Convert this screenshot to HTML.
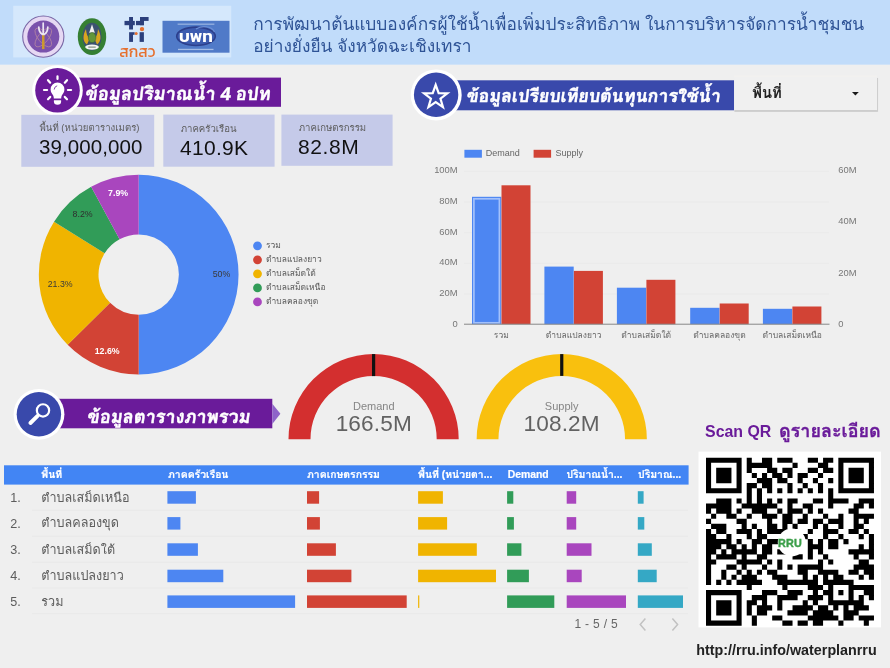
<!DOCTYPE html>
<html lang="th"><head><meta charset="utf-8"><title>Water plan dashboard</title>
<style>
html,body{margin:0;padding:0}
body{width:890px;height:668px;overflow:hidden;background:#efefef;font-family:"Liberation Sans","Loma","Noto Sans Thai Looped","Noto Sans Thai",sans-serif;}
#pg{position:relative;width:890px;height:668px;overflow:hidden;background:#efefef}
.a{position:absolute;white-space:nowrap;line-height:1}
#tx{position:absolute;left:0;top:0;width:890px;height:668px;will-change:transform}
svg{position:absolute;left:0;top:0}
.th{font-family:"Liberation Sans","Loma","Noto Sans Thai Looped","Noto Sans Thai",sans-serif}
.ttl{color:#fff;font-weight:bold;font-style:normal;-webkit-text-stroke:0.45px #fff;transform:skewX(-7deg);transform-origin:0 75%}
.lbl{color:#5c5c5c;font-size:9.6px}
.val{color:#111;font-size:20.5px}
.row{color:#5c5c5c;font-size:12.6px}
.hd{color:#fff;font-size:10.4px;font-weight:bold;-webkit-text-stroke:0.2px #fff}
.ax{fill:#666;font-size:9px;font-family:"Liberation Sans","Loma",sans-serif}
</style></head><body><div id="pg">

<svg width="890" height="668" viewBox="0 0 890 668">
<rect x="0" y="0" width="890" height="64.65" fill="#c1dcfa"/>
<rect x="13.2" y="5.8" width="218" height="51.6" fill="#d5e8fc"/>
<g><circle cx="43.3" cy="36.6" r="20.6" fill="#e6d8f3" stroke="#7a68a6" stroke-width="1.1"/><circle cx="43.3" cy="36.6" r="16" fill="#7a52ac"/><g fill="none" stroke="#b98aa0" stroke-width="0.8" opacity="0.9"><ellipse cx="43.3" cy="37.5" rx="11.5" ry="5" transform="rotate(50 43.3 37.5)"/><ellipse cx="43.3" cy="37.5" rx="11.5" ry="5" transform="rotate(-50 43.3 37.5)"/></g><rect x="42" y="34.5" width="2.5" height="14.6" fill="#cc9a2e"/><path d="M43.2 23v11.5M38.8 27c0 4 1.2 6 3.6 7.4M47.8 27c0 4-1.2 6-3.6 7.4" fill="none" stroke="#ece6f4" stroke-width="1.7" stroke-linecap="round"/></g>
<g><ellipse cx="92" cy="36.65" rx="14.2" ry="18.45" fill="#357f33"/><ellipse cx="92" cy="36.65" rx="9.6" ry="13.9" fill="#3b5270"/><path d="M87 44.6c-4.3-3-4.6-9-1-15.6c0.3 4.8 1.4 7.6 3.6 9.8z M97 44.6c4.3-3 4.6-9 1-15.6c-0.3 4.8-1.4 7.6-3.6 9.8z" fill="#d9a520"/><path d="M92 24.2l2.8 8.6h-5.6z" fill="#f1f1ee"/><ellipse cx="92.1" cy="37.6" rx="3.8" ry="5" fill="#62963a" stroke="#3d6a2c" stroke-width="0.6"/><ellipse cx="92" cy="47.1" rx="6.8" ry="2.6" fill="#f4f6f2"/><rect x="88.3" y="46.6" width="7.4" height="1" fill="#6a7a6a"/></g>
<g fill="#2b3f7c"><rect x="129.1" y="17" width="3.9" height="12.5"/><rect x="124.5" y="20.9" width="10.3" height="4.3"/><rect x="136" y="20.9" width="7.9" height="4.3"/><rect x="140" y="17" width="8.6" height="3.9"/><rect x="140" y="17" width="3.9" height="8.2"/><rect x="129.1" y="32.2" width="3.9" height="9.7"/><rect x="133" y="32.2" width="1.6" height="2.6"/><rect x="139.6" y="32.2" width="4.3" height="9.7"/><circle cx="142" cy="29.1" r="2.2" fill="#e5702f"/><circle cx="136.2" cy="33.4" r="1.5" fill="#e5702f"/></g>
<g><rect x="162.5" y="20.8" width="67" height="31.9" fill="#507ac8"/><ellipse cx="196" cy="36.3" rx="19.3" ry="9.2" fill="#3d5cb0" stroke="#2c3f8c" stroke-width="1.6"/><path d="M196 29c6-4 16-3 18.5 3" fill="none" stroke="#6c8fd6" stroke-width="1.2"/><rect x="177.6" y="23.6" width="36.8" height="1.1" fill="#dbe6f8" opacity="0.6"/><rect x="178" y="48.8" width="35.5" height="1.3" fill="#dbe6f8" opacity="0.6"/></g>
<rect x="57" y="77.6" width="224" height="29.2" fill="#6a1b9a"/>
<circle cx="57.5" cy="90.6" r="25.3" fill="#fff"/><circle cx="57.5" cy="90.3" r="22.3" fill="#6a1b9a"/>
<g stroke="#fff" stroke-width="2.2" stroke-linecap="round" fill="none"><path d="M57.5 76.3V79M44 90H47.1M67.9 90H71.1M48 80.2L50.2 82.7M67 80.2L64.8 82.7M48 99.3L50.2 96.9M67 99.3L64.8 96.9"/></g>
<path d="M57.5 82.5a6.9 6.9 0 0 1 6.9 6.9c0 2.9-1.7 4.3-2.6 6.1c-0.5 1-0.6 2-0.6 3.1h-7.4c0-1.1-0.1-2.1-0.6-3.1c-0.9-1.8-2.6-3.2-2.6-6.1a6.9 6.9 0 0 1 6.9-6.9z" fill="#fff"/>
<path d="M53.9 100.3h7.2v1.2a3.6 3.3 0 0 1-7.2 0z" fill="#fff"/>
<path d="M54.2 89.2a3.6 3.6 0 0 1 2.6-3.3" stroke="#6a1b9a" stroke-width="0.8" fill="none" stroke-linecap="round"/>
<rect x="435" y="80.3" width="299.1" height="30" fill="#3949ab"/>
<circle cx="436.2" cy="94.9" r="25.5" fill="#fff"/><circle cx="436.1" cy="94.8" r="22.2" fill="#3949ab"/>
<path d="M435.70 84.80L438.64 93.05L447.40 93.30L440.46 98.65L442.93 107.05L435.70 102.10L428.47 107.05L430.94 98.65L424.00 93.30L432.76 93.05Z" fill="none" stroke="#fff" stroke-width="2.2" stroke-linejoin="miter"/>
<rect x="40" y="398.8" width="232.3" height="29.5" fill="#6a1b9a"/>
<path d="M272.3 403.7L280.4 413.8L272.3 424Z" fill="#8e63c9"/>
<circle cx="39" cy="414.3" r="25.4" fill="#fff"/><circle cx="38.9" cy="414.3" r="22.2" fill="#3949ab"/>
<circle cx="43" cy="410.4" r="6.15" fill="none" stroke="#fff" stroke-width="2.2"/><path d="M37.6 415.9L30.4 423" stroke="#fff" stroke-width="3.9" stroke-linecap="round"/>
<rect x="21.3" y="114.8" width="132.9" height="52.0" fill="#c5cae9"/>
<rect x="163.3" y="114.6" width="111.3" height="52.1" fill="#c5cae9"/>
<rect x="281.4" y="114.6" width="111.2" height="51.2" fill="#c5cae9"/>
<path d="M138.70 174.75A99.85 99.85 0 0 1 138.70 374.45L138.70 314.80A40.2 40.2 0 0 0 138.70 234.40Z" fill="#4d86f2"/>
<path d="M138.70 374.45A99.85 99.85 0 0 1 67.65 344.76L110.10 302.85A40.2 40.2 0 0 0 138.70 314.80Z" fill="#d24335"/>
<path d="M67.65 344.76A99.85 99.85 0 0 1 54.06 221.63L104.62 253.27A40.2 40.2 0 0 0 110.10 302.85Z" fill="#f0b400"/>
<path d="M54.06 221.63A99.85 99.85 0 0 1 91.15 186.80L119.56 239.25A40.2 40.2 0 0 0 104.62 253.27Z" fill="#319c58"/>
<path d="M91.15 186.80A99.85 99.85 0 0 1 138.70 174.75L138.70 234.40A40.2 40.2 0 0 0 119.56 239.25Z" fill="#a946be"/>
<circle cx="257.5" cy="245.8" r="4.4" fill="#4d86f2"/>
<circle cx="257.5" cy="259.8" r="4.4" fill="#d24335"/>
<circle cx="257.5" cy="273.8" r="4.4" fill="#f0b400"/>
<circle cx="257.5" cy="287.9" r="4.4" fill="#319c58"/>
<circle cx="257.5" cy="301.9" r="4.4" fill="#a946be"/>
<rect x="464" y="293.5" width="365" height="1" fill="#eaeaea"/>
<rect x="464" y="262.8" width="365" height="1" fill="#eaeaea"/>
<rect x="464" y="232.2" width="365" height="1" fill="#eaeaea"/>
<rect x="464" y="201.5" width="365" height="1" fill="#eaeaea"/>
<rect x="464" y="170.8" width="365" height="1" fill="#eaeaea"/>
<rect x="472" y="196.8" width="29.3" height="127.4" fill="#4d86f2"/>
<rect x="501.5" y="185.3" width="29.0" height="138.9" fill="#d24335"/>
<rect x="544.4" y="266.6" width="29.3" height="57.6" fill="#4d86f2"/>
<rect x="573.9" y="270.9" width="29.0" height="53.3" fill="#d24335"/>
<rect x="616.9" y="287.7" width="29.3" height="36.5" fill="#4d86f2"/>
<rect x="646.4" y="279.8" width="29.0" height="44.4" fill="#d24335"/>
<rect x="690.2" y="307.8" width="29.3" height="16.4" fill="#4d86f2"/>
<rect x="719.7" y="303.5" width="29.0" height="20.7" fill="#d24335"/>
<rect x="762.9" y="308.8" width="29.3" height="15.4" fill="#4d86f2"/>
<rect x="792.4" y="306.5" width="29.0" height="17.7" fill="#d24335"/>
<rect x="473.9" y="198.8" width="25.5" height="124.0" fill="none" stroke="#a3c1fb" stroke-width="1.7"/>
<rect x="464" y="323.7" width="365.5" height="1" fill="#888"/>
<rect x="464.4" y="149.8" width="17.5" height="7.9" fill="#4d86f2"/><rect x="533.6" y="149.8" width="17.5" height="7.9" fill="#d24335"/>
<path d="M288.5 439.2A85.1 85.1 0 0 1 458.70000000000005 439.2L436.70000000000005 439.2A63.1 63.1 0 0 0 310.5 439.2Z" fill="#d32f2f"/><rect x="372.0" y="354.1" width="3.2" height="21.999999999999993" fill="#111"/>
<path d="M476.65 439.2A85.1 85.1 0 0 1 646.85 439.2L625.05 439.2A63.3 63.3 0 0 0 498.45 439.2Z" fill="#f9c00e"/><rect x="560.15" y="354.1" width="3.2" height="21.799999999999997" fill="#111"/>
<rect x="4" y="465.3" width="684.6" height="19.3" fill="#4285f4"/>
<rect x="32" y="509.7" width="656" height="1" fill="#e9e9e9"/>
<rect x="32" y="535.7" width="656" height="1" fill="#e9e9e9"/>
<rect x="32" y="561.7" width="656" height="1" fill="#e9e9e9"/>
<rect x="32" y="587.5" width="656" height="1" fill="#e9e9e9"/>
<rect x="32" y="613.1" width="656" height="1" fill="#e9e9e9"/>
<rect x="167.4" y="491.2" width="28.5" height="12.5" fill="#4d86f2"/>
<rect x="167.4" y="517.1" width="13" height="12.5" fill="#4d86f2"/>
<rect x="167.4" y="543.3" width="30.5" height="12.5" fill="#4d86f2"/>
<rect x="167.4" y="569.7" width="55.9" height="12.5" fill="#4d86f2"/>
<rect x="167.4" y="595.4" width="127.7" height="12.5" fill="#4d86f2"/>
<rect x="307" y="491.2" width="12.1" height="12.5" fill="#d24335"/>
<rect x="307" y="517.1" width="12.9" height="12.5" fill="#d24335"/>
<rect x="307" y="543.3" width="28.9" height="12.5" fill="#d24335"/>
<rect x="307" y="569.7" width="44.4" height="12.5" fill="#d24335"/>
<rect x="307" y="595.4" width="99.7" height="12.5" fill="#d24335"/>
<rect x="418.1" y="491.2" width="24.8" height="12.5" fill="#f0b400"/>
<rect x="418.1" y="517.1" width="29" height="12.5" fill="#f0b400"/>
<rect x="418.1" y="543.3" width="58.7" height="12.5" fill="#f0b400"/>
<rect x="418.1" y="569.7" width="77.9" height="12.5" fill="#f0b400"/>
<rect x="418.1" y="595.4" width="1.2" height="12.5" fill="#f0b400"/>
<rect x="507.1" y="491.2" width="6.2" height="12.5" fill="#319c58"/>
<rect x="507.1" y="517.1" width="6.8" height="12.5" fill="#319c58"/>
<rect x="507.1" y="543.3" width="14.3" height="12.5" fill="#319c58"/>
<rect x="507.1" y="569.7" width="21.8" height="12.5" fill="#319c58"/>
<rect x="507.1" y="595.4" width="47.2" height="12.5" fill="#319c58"/>
<rect x="566.7" y="491.2" width="9.5" height="12.5" fill="#a946be"/>
<rect x="566.7" y="517.1" width="9.5" height="12.5" fill="#a946be"/>
<rect x="566.7" y="543.3" width="24.8" height="12.5" fill="#a946be"/>
<rect x="566.7" y="569.7" width="15" height="12.5" fill="#a946be"/>
<rect x="566.7" y="595.4" width="59.3" height="12.5" fill="#a946be"/>
<rect x="637.8" y="491.2" width="5.8" height="12.5" fill="#35a8c5"/>
<rect x="637.8" y="517.1" width="6.5" height="12.5" fill="#35a8c5"/>
<rect x="637.8" y="543.3" width="14" height="12.5" fill="#35a8c5"/>
<rect x="637.8" y="569.7" width="18.9" height="12.5" fill="#35a8c5"/>
<rect x="637.8" y="595.4" width="45.2" height="12.5" fill="#35a8c5"/>
<path d="M645.4 618.6l-5.2 6 5.2 6M672.4 618.6l5.2 6-5.2 6" fill="none" stroke="#c2c2c2" stroke-width="1.5"/>
<rect x="698.5" y="451.6" width="182.5" height="175.8" fill="#fff"/>
<path d="M706.00 457.66h35.63v5.14h-35.63zM746.72 457.66h5.09v5.14h-5.09zM761.99 457.66h10.18v5.14h-10.18zM777.26 457.66h15.27v5.14h-15.27zM807.80 457.66h10.18v5.14h-10.18zM823.07 457.66h10.18v5.14h-10.18zM838.34 457.66h35.63v5.14h-35.63zM706.00 462.75h5.09v5.14h-5.09zM736.54 462.75h5.09v5.14h-5.09zM746.72 462.75h25.45v5.14h-25.45zM792.53 462.75h5.09v5.14h-5.09zM817.98 462.75h10.18v5.14h-10.18zM838.34 462.75h5.09v5.14h-5.09zM868.88 462.75h5.09v5.14h-5.09zM706.00 467.84h5.09v5.14h-5.09zM716.18 467.84h15.27v5.14h-15.27zM736.54 467.84h5.09v5.14h-5.09zM746.72 467.84h5.09v5.14h-5.09zM767.08 467.84h10.18v5.14h-10.18zM782.35 467.84h10.18v5.14h-10.18zM807.80 467.84h10.18v5.14h-10.18zM823.07 467.84h10.18v5.14h-10.18zM838.34 467.84h5.09v5.14h-5.09zM848.52 467.84h15.27v5.14h-15.27zM868.88 467.84h5.09v5.14h-5.09zM706.00 472.93h5.09v5.14h-5.09zM716.18 472.93h15.27v5.14h-15.27zM736.54 472.93h5.09v5.14h-5.09zM751.81 472.93h5.09v5.14h-5.09zM761.99 472.93h5.09v5.14h-5.09zM772.17 472.93h10.18v5.14h-10.18zM787.44 472.93h5.09v5.14h-5.09zM797.62 472.93h10.18v5.14h-10.18zM817.98 472.93h5.09v5.14h-5.09zM838.34 472.93h5.09v5.14h-5.09zM848.52 472.93h15.27v5.14h-15.27zM868.88 472.93h5.09v5.14h-5.09zM706.00 478.02h5.09v5.14h-5.09zM716.18 478.02h15.27v5.14h-15.27zM736.54 478.02h5.09v5.14h-5.09zM756.90 478.02h15.27v5.14h-15.27zM777.26 478.02h10.18v5.14h-10.18zM797.62 478.02h5.09v5.14h-5.09zM812.89 478.02h5.09v5.14h-5.09zM828.16 478.02h5.09v5.14h-5.09zM838.34 478.02h5.09v5.14h-5.09zM848.52 478.02h15.27v5.14h-15.27zM868.88 478.02h5.09v5.14h-5.09zM706.00 483.11h5.09v5.14h-5.09zM736.54 483.11h5.09v5.14h-5.09zM746.72 483.11h10.18v5.14h-10.18zM761.99 483.11h10.18v5.14h-10.18zM787.44 483.11h5.09v5.14h-5.09zM802.71 483.11h5.09v5.14h-5.09zM817.98 483.11h5.09v5.14h-5.09zM838.34 483.11h5.09v5.14h-5.09zM868.88 483.11h5.09v5.14h-5.09zM706.00 488.20h35.63v5.14h-35.63zM746.72 488.20h5.09v5.14h-5.09zM756.90 488.20h5.09v5.14h-5.09zM767.08 488.20h5.09v5.14h-5.09zM777.26 488.20h5.09v5.14h-5.09zM787.44 488.20h5.09v5.14h-5.09zM797.62 488.20h5.09v5.14h-5.09zM807.80 488.20h5.09v5.14h-5.09zM817.98 488.20h5.09v5.14h-5.09zM828.16 488.20h5.09v5.14h-5.09zM838.34 488.20h35.63v5.14h-35.63zM746.72 493.29h5.09v5.14h-5.09zM756.90 493.29h5.09v5.14h-5.09zM828.16 493.29h5.09v5.14h-5.09zM716.18 498.38h15.27v5.14h-15.27zM736.54 498.38h5.09v5.14h-5.09zM746.72 498.38h5.09v5.14h-5.09zM756.90 498.38h5.09v5.14h-5.09zM767.08 498.38h5.09v5.14h-5.09zM777.26 498.38h5.09v5.14h-5.09zM787.44 498.38h10.18v5.14h-10.18zM812.89 498.38h10.18v5.14h-10.18zM828.16 498.38h20.36v5.14h-20.36zM858.70 498.38h15.27v5.14h-15.27zM706.00 503.47h25.45v5.14h-25.45zM741.63 503.47h35.63v5.14h-35.63zM787.44 503.47h5.09v5.14h-5.09zM802.71 503.47h10.18v5.14h-10.18zM828.16 503.47h5.09v5.14h-5.09zM853.61 503.47h10.18v5.14h-10.18zM868.88 503.47h5.09v5.14h-5.09zM706.00 508.56h5.09v5.14h-5.09zM716.18 508.56h15.27v5.14h-15.27zM736.54 508.56h5.09v5.14h-5.09zM751.81 508.56h15.27v5.14h-15.27zM777.26 508.56h5.09v5.14h-5.09zM787.44 508.56h15.27v5.14h-15.27zM807.80 508.56h5.09v5.14h-5.09zM817.98 508.56h5.09v5.14h-5.09zM848.52 508.56h10.18v5.14h-10.18zM711.09 513.65h5.09v5.14h-5.09zM726.36 513.65h10.18v5.14h-10.18zM746.72 513.65h5.09v5.14h-5.09zM761.99 513.65h15.27v5.14h-15.27zM782.35 513.65h10.18v5.14h-10.18zM802.71 513.65h5.09v5.14h-5.09zM823.07 513.65h5.09v5.14h-5.09zM838.34 513.65h5.09v5.14h-5.09zM853.61 513.65h20.36v5.14h-20.36zM706.00 518.74h5.09v5.14h-5.09zM736.54 518.74h10.18v5.14h-10.18zM767.08 518.74h5.09v5.14h-5.09zM782.35 518.74h10.18v5.14h-10.18zM797.62 518.74h10.18v5.14h-10.18zM812.89 518.74h10.18v5.14h-10.18zM828.16 518.74h15.27v5.14h-15.27zM853.61 518.74h5.09v5.14h-5.09zM863.79 518.74h5.09v5.14h-5.09zM711.09 523.83h15.27v5.14h-15.27zM741.63 523.83h5.09v5.14h-5.09zM751.81 523.83h5.09v5.14h-5.09zM767.08 523.83h10.18v5.14h-10.18zM782.35 523.83h5.09v5.14h-5.09zM792.53 523.83h5.09v5.14h-5.09zM812.89 523.83h5.09v5.14h-5.09zM823.07 523.83h5.09v5.14h-5.09zM838.34 523.83h5.09v5.14h-5.09zM853.61 523.83h10.18v5.14h-10.18zM706.00 528.92h5.09v5.14h-5.09zM716.18 528.92h10.18v5.14h-10.18zM736.54 528.92h15.27v5.14h-15.27zM756.90 528.92h5.09v5.14h-5.09zM767.08 528.92h25.45v5.14h-25.45zM807.80 528.92h5.09v5.14h-5.09zM823.07 528.92h15.27v5.14h-15.27zM848.52 528.92h10.18v5.14h-10.18zM863.79 528.92h5.09v5.14h-5.09zM706.00 534.01h10.18v5.14h-10.18zM726.36 534.01h5.09v5.14h-5.09zM746.72 534.01h5.09v5.14h-5.09zM756.90 534.01h10.18v5.14h-10.18zM787.44 534.01h5.09v5.14h-5.09zM802.71 534.01h5.09v5.14h-5.09zM823.07 534.01h5.09v5.14h-5.09zM838.34 534.01h5.09v5.14h-5.09zM858.70 534.01h5.09v5.14h-5.09zM868.88 534.01h5.09v5.14h-5.09zM706.00 539.10h25.45v5.14h-25.45zM736.54 539.10h5.09v5.14h-5.09zM751.81 539.10h10.18v5.14h-10.18zM767.08 539.10h15.27v5.14h-15.27zM792.53 539.10h10.18v5.14h-10.18zM807.80 539.10h5.09v5.14h-5.09zM817.98 539.10h5.09v5.14h-5.09zM828.16 539.10h10.18v5.14h-10.18zM843.43 539.10h5.09v5.14h-5.09zM868.88 539.10h5.09v5.14h-5.09zM706.00 544.19h15.27v5.14h-15.27zM726.36 544.19h10.18v5.14h-10.18zM741.63 544.19h5.09v5.14h-5.09zM751.81 544.19h5.09v5.14h-5.09zM761.99 544.19h10.18v5.14h-10.18zM797.62 544.19h5.09v5.14h-5.09zM807.80 544.19h15.27v5.14h-15.27zM828.16 544.19h10.18v5.14h-10.18zM858.70 544.19h5.09v5.14h-5.09zM868.88 544.19h5.09v5.14h-5.09zM706.00 549.28h10.18v5.14h-10.18zM721.27 549.28h5.09v5.14h-5.09zM731.45 549.28h25.45v5.14h-25.45zM761.99 549.28h10.18v5.14h-10.18zM777.26 549.28h15.27v5.14h-15.27zM807.80 549.28h5.09v5.14h-5.09zM817.98 549.28h5.09v5.14h-5.09zM848.52 549.28h25.45v5.14h-25.45zM706.00 554.37h5.09v5.14h-5.09zM716.18 554.37h20.36v5.14h-20.36zM741.63 554.37h5.09v5.14h-5.09zM756.90 554.37h10.18v5.14h-10.18zM792.53 554.37h10.18v5.14h-10.18zM807.80 554.37h5.09v5.14h-5.09zM823.07 554.37h5.09v5.14h-5.09zM853.61 554.37h5.09v5.14h-5.09zM868.88 554.37h5.09v5.14h-5.09zM706.00 559.46h10.18v5.14h-10.18zM736.54 559.46h25.45v5.14h-25.45zM767.08 559.46h5.09v5.14h-5.09zM777.26 559.46h5.09v5.14h-5.09zM817.98 559.46h5.09v5.14h-5.09zM828.16 559.46h5.09v5.14h-5.09zM858.70 559.46h10.18v5.14h-10.18zM706.00 564.55h5.09v5.14h-5.09zM726.36 564.55h10.18v5.14h-10.18zM741.63 564.55h5.09v5.14h-5.09zM761.99 564.55h5.09v5.14h-5.09zM777.26 564.55h5.09v5.14h-5.09zM787.44 564.55h5.09v5.14h-5.09zM797.62 564.55h25.45v5.14h-25.45zM853.61 564.55h20.36v5.14h-20.36zM706.00 569.64h5.09v5.14h-5.09zM721.27 569.64h5.09v5.14h-5.09zM736.54 569.64h5.09v5.14h-5.09zM746.72 569.64h5.09v5.14h-5.09zM756.90 569.64h5.09v5.14h-5.09zM767.08 569.64h10.18v5.14h-10.18zM797.62 569.64h10.18v5.14h-10.18zM817.98 569.64h20.36v5.14h-20.36zM848.52 569.64h10.18v5.14h-10.18zM863.79 569.64h10.18v5.14h-10.18zM706.00 574.73h5.09v5.14h-5.09zM721.27 574.73h5.09v5.14h-5.09zM731.45 574.73h5.09v5.14h-5.09zM741.63 574.73h15.27v5.14h-15.27zM772.17 574.73h15.27v5.14h-15.27zM802.71 574.73h5.09v5.14h-5.09zM812.89 574.73h5.09v5.14h-5.09zM823.07 574.73h5.09v5.14h-5.09zM833.25 574.73h10.18v5.14h-10.18zM858.70 574.73h5.09v5.14h-5.09zM868.88 574.73h5.09v5.14h-5.09zM706.00 579.82h5.09v5.14h-5.09zM716.18 579.82h5.09v5.14h-5.09zM726.36 579.82h5.09v5.14h-5.09zM736.54 579.82h25.45v5.14h-25.45zM777.26 579.82h40.72v5.14h-40.72zM823.07 579.82h30.54v5.14h-30.54zM746.72 584.91h5.09v5.14h-5.09zM782.35 584.91h5.09v5.14h-5.09zM807.80 584.91h15.27v5.14h-15.27zM828.16 584.91h5.09v5.14h-5.09zM848.52 584.91h25.45v5.14h-25.45zM706.00 590.00h35.63v5.14h-35.63zM761.99 590.00h15.27v5.14h-15.27zM787.44 590.00h15.27v5.14h-15.27zM812.89 590.00h5.09v5.14h-5.09zM823.07 590.00h10.18v5.14h-10.18zM838.34 590.00h5.09v5.14h-5.09zM848.52 590.00h5.09v5.14h-5.09zM863.79 590.00h10.18v5.14h-10.18zM706.00 595.09h5.09v5.14h-5.09zM736.54 595.09h5.09v5.14h-5.09zM751.81 595.09h15.27v5.14h-15.27zM777.26 595.09h20.36v5.14h-20.36zM807.80 595.09h15.27v5.14h-15.27zM828.16 595.09h5.09v5.14h-5.09zM848.52 595.09h5.09v5.14h-5.09zM858.70 595.09h5.09v5.14h-5.09zM868.88 595.09h5.09v5.14h-5.09zM706.00 600.18h5.09v5.14h-5.09zM716.18 600.18h15.27v5.14h-15.27zM736.54 600.18h5.09v5.14h-5.09zM746.72 600.18h10.18v5.14h-10.18zM761.99 600.18h5.09v5.14h-5.09zM777.26 600.18h5.09v5.14h-5.09zM802.71 600.18h5.09v5.14h-5.09zM812.89 600.18h5.09v5.14h-5.09zM828.16 600.18h35.63v5.14h-35.63zM706.00 605.27h5.09v5.14h-5.09zM716.18 605.27h15.27v5.14h-15.27zM736.54 605.27h5.09v5.14h-5.09zM746.72 605.27h5.09v5.14h-5.09zM756.90 605.27h15.27v5.14h-15.27zM777.26 605.27h5.09v5.14h-5.09zM792.53 605.27h20.36v5.14h-20.36zM817.98 605.27h10.18v5.14h-10.18zM833.25 605.27h5.09v5.14h-5.09zM843.43 605.27h5.09v5.14h-5.09zM853.61 605.27h15.27v5.14h-15.27zM706.00 610.36h5.09v5.14h-5.09zM716.18 610.36h15.27v5.14h-15.27zM736.54 610.36h5.09v5.14h-5.09zM746.72 610.36h5.09v5.14h-5.09zM756.90 610.36h10.18v5.14h-10.18zM787.44 610.36h20.36v5.14h-20.36zM812.89 610.36h20.36v5.14h-20.36zM843.43 610.36h15.27v5.14h-15.27zM706.00 615.45h5.09v5.14h-5.09zM736.54 615.45h5.09v5.14h-5.09zM751.81 615.45h5.09v5.14h-5.09zM772.17 615.45h10.18v5.14h-10.18zM807.80 615.45h30.54v5.14h-30.54zM843.43 615.45h10.18v5.14h-10.18zM858.70 615.45h15.27v5.14h-15.27zM706.00 620.54h35.63v5.14h-35.63zM751.81 620.54h5.09v5.14h-5.09zM782.35 620.54h10.18v5.14h-10.18zM797.62 620.54h10.18v5.14h-10.18zM812.89 620.54h10.18v5.14h-10.18zM838.34 620.54h5.09v5.14h-5.09zM863.79 620.54h5.09v5.14h-5.09z" fill="#000"/>
<circle cx="791.8" cy="542.4" r="14" fill="#fff"/>
<rect x="734.6" y="77.8" width="143.6" height="34.2" fill="#000" opacity="0.05"/>
<rect x="734.4" y="110" width="143.4" height="1.5" fill="#bdbdbd"/><rect x="876.8" y="78" width="1.1" height="33" fill="#cdcdcd"/>
<rect x="734.1" y="76" width="142.9" height="34.3" fill="#f0f0f0"/>
<rect x="734.1" y="75.6" width="142.9" height="1" fill="#f4f2ef"/>
<path d="M852 92h6.8l-3.4 3.5z" fill="#1a1a1a"/>
</svg>
<div id="tx">
<div class="a th" id="hdr" style="left:253.2px;top:12.8px;font-size:17.3px;line-height:22.4px;color:#2e5396">การพัฒนาต้นแบบองค์กรผู้ใช้น้ำเพื่อเพิ่มประสิทธิภาพ ในการบริหารจัดการน้ำชุมชน<br>อย่างยั่งยืน จังหวัดฉะเชิงเทรา</div>
<div class="a th ttl" id="t1" style="left:85px;top:84.7px;font-size:18.3px">ข้อมูลปริมาณน้ำ 4 อปท</div>
<div class="a th ttl" id="t2" style="left:465.5px;top:88px;font-size:17.8px">ข้อมูลเปรียบเทียบต้นทุนการใช้น้ำ</div>
<div class="a th ttl" id="t3" style="left:87.2px;top:407.6px;font-size:18.15px">ข้อมูลตารางภาพรวม</div>
<div class="a th" id="dd" style="left:752.2px;top:85.6px;font-size:14.8px;font-weight:bold;color:#222">พื้นที่</div>
<div class="a lg1" style="left:119.3px;top:43.8px;font-size:15.5px;color:#e5702f;font-weight:400;font-family:Kanit,Prompt,Loma,sans-serif">สกสว</div>
<div class="a lg2" style="left:179px;top:28px;font-size:17px;color:#fff;font-weight:600;font-family:Kanit,Prompt,Loma,sans-serif">บพท</div>
<div class="a th lbl" style="left:39.5px;top:123px">พื้นที่ (หน่วยตารางเมตร)</div><div class="a val" id="v1" style="left:39px;top:136.5px;letter-spacing:0.1px">39,000,000</div>
<div class="a th lbl" style="left:180.7px;top:123.6px">ภาคครัวเรือน</div><div class="a val" id="v2" style="left:180px;top:137px;font-size:21px;letter-spacing:0.3px">410.9K</div>
<div class="a th lbl" style="left:298.8px;top:122.9px">ภาคเกษตรกรรม</div><div class="a val" id="v3" style="left:298px;top:135.5px;font-size:21px;letter-spacing:0.6px">82.8M</div>
<div class="a" style="left:201.5px;top:270.2px;width:40px;text-align:center;font-size:8.8px;color:#3a3a3a;">50%</div>
<div class="a" style="left:87.2px;top:347.3px;width:40px;text-align:center;font-size:8.8px;color:#fff;font-weight:bold;">12.6%</div>
<div class="a" style="left:40.2px;top:279.5px;width:40px;text-align:center;font-size:8.8px;color:#3a3a3a;">21.3%</div>
<div class="a" style="left:62.599999999999994px;top:210.3px;width:40px;text-align:center;font-size:8.8px;color:#2f2f2f;">8.2%</div>
<div class="a" style="left:98.1px;top:189.1px;width:40px;text-align:center;font-size:8.8px;color:#fff;font-weight:bold;">7.9%</div>
<div class="a th lg" style="left:266px;top:240.9px;font-size:8.5px;color:#5a5a5a">รวม</div>
<div class="a th lg" style="left:266px;top:254.9px;font-size:8.5px;color:#5a5a5a">ตำบลแปลงยาว</div>
<div class="a th lg" style="left:266px;top:268.9px;font-size:8.5px;color:#5a5a5a">ตำบลเสม็ดใต้</div>
<div class="a th lg" style="left:266px;top:283.0px;font-size:8.5px;color:#5a5a5a">ตำบลเสม็ดเหนือ</div>
<div class="a th lg" style="left:266px;top:297.0px;font-size:8.5px;color:#5a5a5a">ตำบลคลองขุด</div>
<div class="a" style="left:485.8px;top:149.3px;font-size:9px;color:#666">Demand</div><div class="a" style="left:555.6px;top:149.3px;font-size:9px;color:#666">Supply</div>
<div class="a" style="left:416.6px;width:41px;text-align:right;top:318.8px;font-size:9.4px;color:#777">0</div>
<div class="a" style="left:416.6px;width:41px;text-align:right;top:288.1px;font-size:9.4px;color:#777">20M</div>
<div class="a" style="left:416.6px;width:41px;text-align:right;top:257.4px;font-size:9.4px;color:#777">40M</div>
<div class="a" style="left:416.6px;width:41px;text-align:right;top:226.8px;font-size:9.4px;color:#777">60M</div>
<div class="a" style="left:416.6px;width:41px;text-align:right;top:196.1px;font-size:9.4px;color:#777">80M</div>
<div class="a" style="left:416.6px;width:41px;text-align:right;top:165.4px;font-size:9.4px;color:#777">100M</div>
<div class="a" style="left:838.3px;top:318.8px;font-size:9.4px;color:#777">0</div>
<div class="a" style="left:838.3px;top:267.5px;font-size:9.4px;color:#777">20M</div>
<div class="a" style="left:838.3px;top:216.2px;font-size:9.4px;color:#777">40M</div>
<div class="a" style="left:838.3px;top:164.9px;font-size:9.4px;color:#777">60M</div>
<div class="a th" style="left:461.3px;width:80px;text-align:center;top:331.2px;font-size:8.5px;color:#666">รวม</div>
<div class="a th" style="left:533.7px;width:80px;text-align:center;top:331.2px;font-size:8.5px;color:#666">ตำบลแปลงยาว</div>
<div class="a th" style="left:606.2px;width:80px;text-align:center;top:331.2px;font-size:8.5px;color:#666">ตำบลเสม็ดใต้</div>
<div class="a th" style="left:679.5px;width:80px;text-align:center;top:331.2px;font-size:8.5px;color:#666">ตำบลคลองขุด</div>
<div class="a th" style="left:752.2px;width:80px;text-align:center;top:331.2px;font-size:8.5px;color:#666">ตำบลเสม็ดเหนือ</div>
<div class="a" style="left:333.8px;width:80px;text-align:center;top:401.3px;font-size:11px;color:#858585">Demand</div>
<div class="a" id="g1" style="left:323.8px;width:100px;text-align:center;top:413.4px;font-size:22.6px;letter-spacing:0.15px;color:#626262">166.5M</div>
<div class="a" style="left:521.7px;width:80px;text-align:center;top:401.3px;font-size:11px;color:#858585">Supply</div>
<div class="a" id="g2" style="left:511.7px;width:100px;text-align:center;top:413.4px;font-size:22.6px;letter-spacing:0.15px;color:#626262">108.2M</div>
<div class="a th hd" style="left:41.3px;top:469.5px">พื้นที่</div>
<div class="a th hd" style="left:168px;top:469.5px">ภาคครัวเรือน</div>
<div class="a th hd" style="left:307px;top:469.5px">ภาคเกษตรกรรม</div>
<div class="a th hd" style="left:418.1px;top:469.5px">พื้นที่ (หน่วยตา...</div>
<div class="a th hd" style="left:507.7px;top:469.5px">Demand</div>
<div class="a th hd" style="left:566.4px;top:469.5px">ปริมาณน้ำ...</div>
<div class="a th hd" style="left:638.1px;top:469.5px">ปริมาณ...</div>
<div class="a row" style="left:10.3px;top:491.8px">1.</div><div class="a th row" style="left:41.3px;top:491.5px">ตำบลเสม็ดเหนือ</div>
<div class="a row" style="left:10.3px;top:517.7px">2.</div><div class="a th row" style="left:41.3px;top:517.4px">ตำบลคลองขุด</div>
<div class="a row" style="left:10.3px;top:543.9px">3.</div><div class="a th row" style="left:41.3px;top:543.6px">ตำบลเสม็ดใต้</div>
<div class="a row" style="left:10.3px;top:570.3px">4.</div><div class="a th row" style="left:41.3px;top:570.0px">ตำบลแปลงยาว</div>
<div class="a row" style="left:10.3px;top:596.0px">5.</div><div class="a th row" style="left:41.3px;top:595.7px">รวม</div>
<div class="a" style="left:574.5px;top:618px;font-size:12px;color:#666;letter-spacing:0.3px">1 - 5 / 5</div>
<div class="a" id="scan" style="left:705.1px;top:422px;font-size:15.9px;font-weight:bold;color:#6a1b9a">Scan QR<span class="th" style="font-size:18px;margin-left:7.6px;-webkit-text-stroke:0.3px #6a1b9a">ดูรายละเอียด</span></div>
<div class="a" id="rru" style="left:770px;width:40px;text-align:center;top:537.6px;font-size:10.8px;font-weight:bold;color:#3a9e48;-webkit-text-stroke:0.4px #3a9e48;letter-spacing:0.2px">RRU</div>
<div class="a" id="url" style="left:696.2px;top:642.8px;font-size:14.32px;font-weight:bold;color:#222">http://rru.info/waterplanrru</div>
</div></div></body></html>
